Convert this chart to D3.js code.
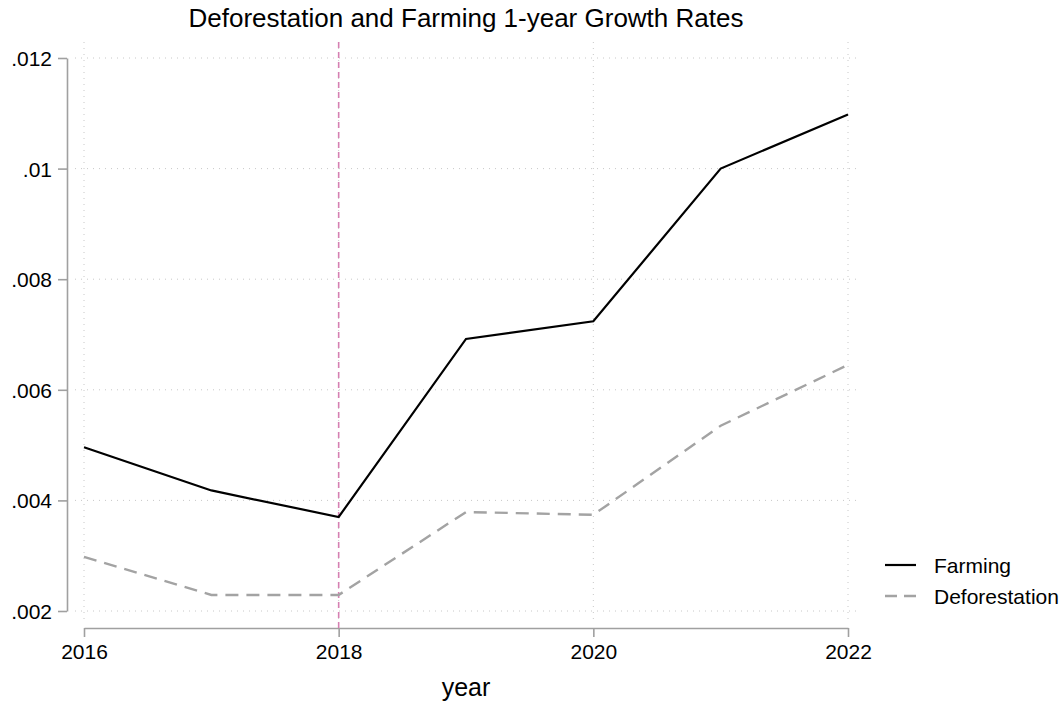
<!DOCTYPE html>
<html>
<head>
<meta charset="utf-8">
<script src="https://cdn.jsdelivr.net/npm/d3@7"></script>
<style>
  body { margin: 0; background: #fff; }
  svg { font-family: "Liberation Sans", Arial, sans-serif; }
</style>
</head>
<body>
<svg id="chart" width="1062" height="704"></svg>
<script>
// data
var years = [2016, 2017, 2018, 2019, 2020, 2021, 2022];
var farming = [0.00496, 0.00418, 0.00370, 0.00692, 0.00724, 0.01000, 0.01098];
var deforestation = [0.00298, 0.00229, 0.00229, 0.00379, 0.00374, 0.00535, 0.00645];
var xTicks = [2016, 2018, 2020, 2022];
var yTicks = [0.002, 0.004, 0.006, 0.008, 0.01, 0.012];
var yTickLabels = [".002", ".004", ".006", ".008", ".01", ".012"];
var markerYear = 2018;

var svg = d3.select("#chart");

var x = d3.scaleLinear().domain([2016, 2022]).range([84, 848]);
var y = d3.scaleLinear().domain([0.002, 0.012]).range([611, 58]);

// plot region (gridlines run a bit past the ticks)
var gridLeft = 75, gridRight = 860, gridTop = 42, gridBottom = 620;

var grid = svg.append("g").attr("stroke", "#c8c8c8").attr("stroke-width", 1)
    .attr("stroke-dasharray", "1,5");
grid.selectAll("line.h").data(yTicks).enter().append("line")
    .attr("x1", gridLeft).attr("x2", gridRight)
    .attr("y1", d => y(d)).attr("y2", d => y(d));
grid.selectAll("line.v").data(xTicks).enter().append("line")
    .attr("y1", gridTop).attr("y2", gridBottom)
    .attr("x1", d => x(d)).attr("x2", d => x(d));

// y axis
var yAxis = svg.append("g").attr("transform", "translate(67,0)")
    .call(d3.axisLeft(y).tickValues(yTicks).tickFormat((d, i) => yTickLabels[i])
        .tickSize(9).tickSizeOuter(0).tickPadding(6));
// x axis
var xAxis = svg.append("g").attr("transform", "translate(0,628)")
    .call(d3.axisBottom(x).tickValues(xTicks).tickFormat(d3.format("d"))
        .tickSize(9).tickSizeOuter(0));

[yAxis, xAxis].forEach(function (ax) {
    ax.attr("font-size", null).attr("font-family", null);
    ax.select(".domain").attr("stroke", "#a0a0a0").attr("stroke-width", 1.6);
    ax.selectAll(".tick line").attr("stroke", "#a0a0a0").attr("stroke-width", 1.6);
    ax.selectAll(".tick text").attr("fill", "#000").style("font-size", "21px");
});
xAxis.selectAll(".tick text").attr("y", 31).attr("dy", 0);
yAxis.selectAll(".tick text").attr("dy", "0.36em");

// vertical marker at 2018
svg.append("line")
    .attr("x1", x(markerYear)).attr("x2", x(markerYear))
    .attr("y1", gridTop).attr("y2", 628)
    .attr("stroke", "#d680b2").attr("stroke-width", 1.6)
    .attr("stroke-dasharray", "6,4");

var line = d3.line().x(d => x(d[0])).y(d => y(d[1]));

svg.append("path")
    .datum(years.map((yr, i) => [yr, deforestation[i]]))
    .attr("d", line).attr("fill", "none")
    .attr("stroke", "#a3a3a3").attr("stroke-width", 2.4)
    .attr("stroke-dasharray", "13,8");

svg.append("path")
    .datum(years.map((yr, i) => [yr, farming[i]]))
    .attr("d", line).attr("fill", "none")
    .attr("stroke", "#000").attr("stroke-width", 2.2)
    .attr("stroke-linejoin", "miter");

// title and x label
svg.append("text").attr("x", 466).attr("y", 27).attr("text-anchor", "middle")
    .style("font-size", "26px").text("Deforestation and Farming 1-year Growth Rates");
svg.append("text").attr("x", 466).attr("y", 696).attr("text-anchor", "middle")
    .style("font-size", "25px").text("year");

// legend
var legendItems = [
    { name: "Farming", color: "#000", dash: null, width: 2.2 },
    { name: "Deforestation", color: "#a3a3a3", dash: "12,7", width: 2.4 }
];
var legend = svg.append("g").attr("transform", "translate(885,565)");
legendItems.forEach(function (it, i) {
    var g = legend.append("g").attr("transform", "translate(0," + (i * 31) + ")");
    g.append("line").attr("x1", 0).attr("x2", 31).attr("y1", 0).attr("y2", 0)
        .attr("stroke", it.color).attr("stroke-width", it.width)
        .attr("stroke-dasharray", it.dash);
    g.append("text").attr("x", 49).attr("y", 0).attr("dy", "0.36em")
        .style("font-size", "21px").text(it.name);
});
</script>
</body>
</html>
